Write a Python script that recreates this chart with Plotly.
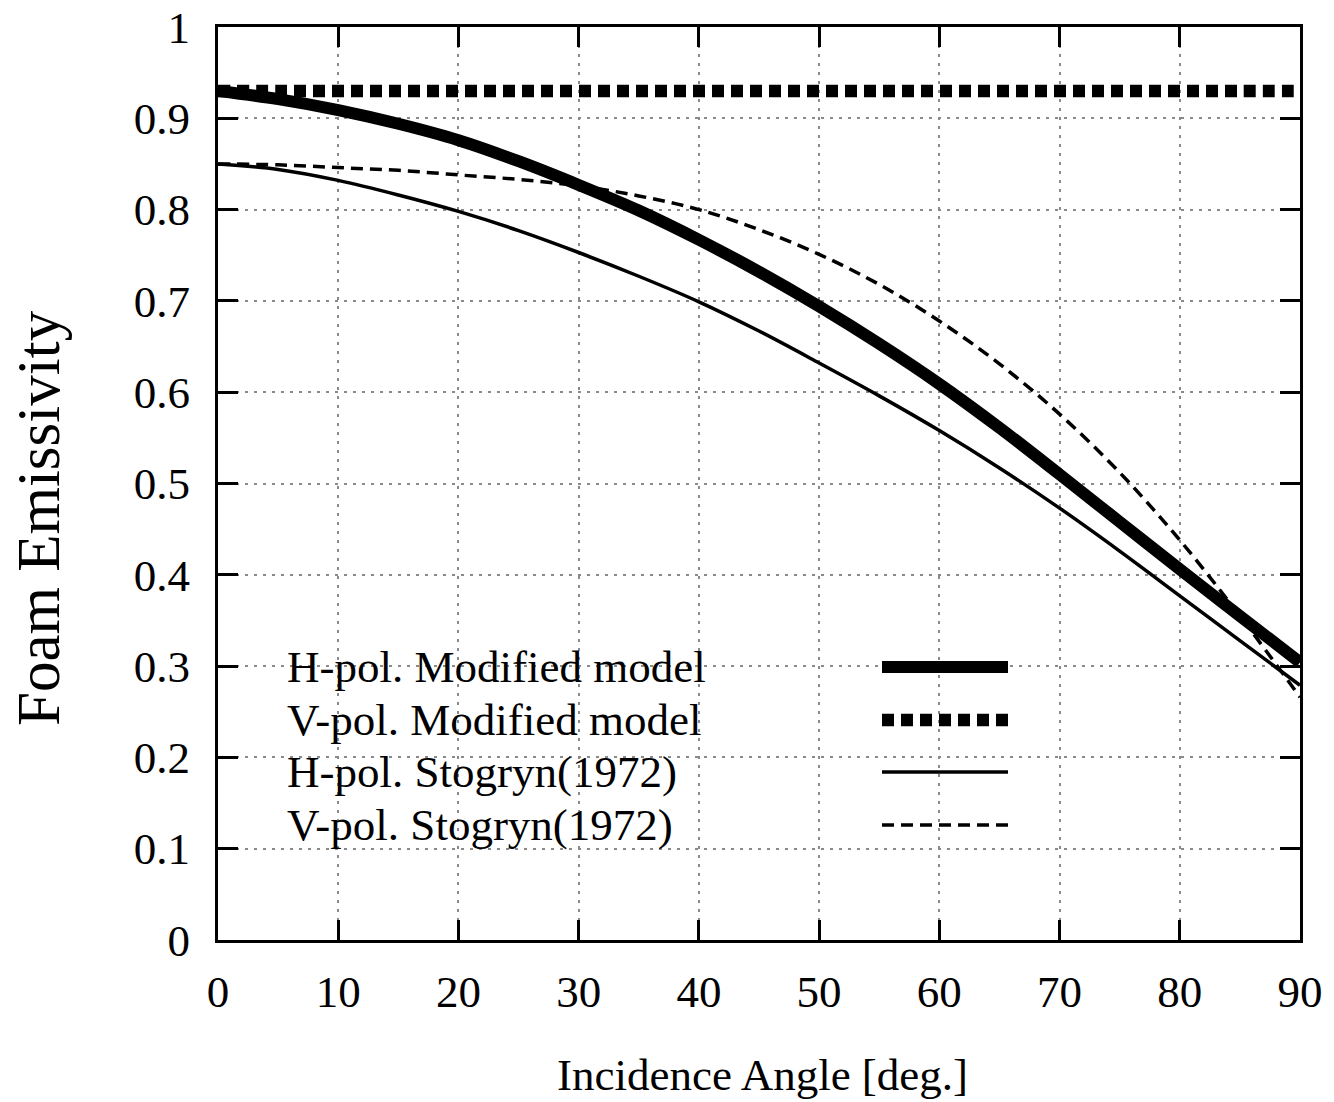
import plotly.graph_objects as go

# ---- data ----
angle = [0, 5, 10, 15, 20, 25, 30, 35, 40, 45, 50, 55, 60, 65, 70, 75, 80, 85, 90]
h_mod = [0.930, 0.921, 0.909, 0.894, 0.876, 0.853, 0.827, 0.799, 0.767, 0.732,
         0.694, 0.653, 0.609, 0.561, 0.510, 0.458, 0.406, 0.355, 0.304]
v_mod = [0.930] * len(angle)
h_sto = [0.850, 0.844, 0.832, 0.816, 0.798, 0.777, 0.753, 0.727, 0.699, 0.667,
         0.632, 0.596, 0.558, 0.517, 0.473, 0.426, 0.377, 0.328, 0.279]
v_sto = [0.850, 0.849, 0.846, 0.843, 0.838, 0.833, 0.826, 0.815, 0.800, 0.778,
         0.751, 0.718, 0.678, 0.631, 0.576, 0.512, 0.438, 0.355, 0.266]

series_names = ["H-pol. Modified model", "V-pol. Modified model",
                "H-pol. Stogryn(1972)", "V-pol. Stogryn(1972)"]
x_ticks = [0, 10, 20, 30, 40, 50, 60, 70, 80, 90]
y_ticks = [0, 0.1, 0.2, 0.3, 0.4, 0.5, 0.6, 0.7, 0.8, 0.9, 1]

FONT = "Liberation Serif, Times New Roman, serif"
W, H = 1334, 1102
ML, MR, MT, MB = 218, 34, 27, 162
PW, PH = W - ML - MR, H - MT - MB


def px(xp):
    return (xp - ML) / PW


def py(yp):
    return (H - MB - yp) / PH


styles = [
    dict(color="black", width=12, dash="solid"),
    dict(color="black", width=12.5, dash="12px,7px"),
    dict(color="black", width=3.5, dash="solid"),
    dict(color="black", width=3.5, dash="12px,7px"),
]
data = [h_mod, v_mod, h_sto, v_sto]

fig = go.Figure()
order = [2, 3, 0, 1]
for i in order:
    fig.add_trace(go.Scatter(x=angle, y=data[i], mode="lines", name=series_names[i],
                             line=dict(shape="spline", smoothing=1.0, **styles[i]),
                             showlegend=False))

# opaque key box
fig.add_shape(type="rect", xref="paper", yref="paper",
              x0=px(275), x1=px(1032), y0=py(856), y1=py(640),
              fillcolor="white", line=dict(width=0), layer="between")

rows = [667, 720, 772, 825]
for i, r in enumerate(rows):
    fig.add_annotation(x=px(285), y=py(r), xref="paper", yref="paper",
                       text=series_names[i], showarrow=False, xanchor="left",
                       yanchor="middle", font=dict(family=FONT, size=45, color="black"))
    fig.add_shape(type="line", xref="paper", yref="paper",
                  x0=px(882), x1=px(1008), y0=py(r), y1=py(r),
                  line=styles[i], layer="above")

fig.add_annotation(x=px(762), y=py(1075), xref="paper", yref="paper",
                   text="Incidence Angle [deg.]", showarrow=False,
                   xanchor="center", yanchor="middle",
                   font=dict(family=FONT, size=45, color="black"))
fig.add_annotation(x=px(38), y=py(518), xref="paper", yref="paper",
                   text="Foam Emissivity", showarrow=False, textangle=-90,
                   xanchor="center", yanchor="middle",
                   font=dict(family=FONT, size=61, color="black"))

axis_common = dict(showline=True, linecolor="black", linewidth=3, mirror="ticks",
                   ticks="inside", ticklen=20, tickwidth=3, tickcolor="black",
                   showgrid=True, gridcolor="#8a8a8a", gridwidth=1.5, griddash="3px,6px",
                   zeroline=False, automargin=False,
                   tickfont=dict(family=FONT, size=45, color="black"))

fig.update_xaxes(range=[0, 90], tickvals=x_ticks, ticktext=[str(v) for v in x_ticks],
                 ticklabelstandoff=10, **axis_common)
fig.update_yaxes(range=[0, 1], tickvals=y_ticks, ticktext=[("%g" % v) for v in y_ticks],
                 ticklabelstandoff=16, **axis_common)

fig.update_layout(width=W, height=H, margin=dict(l=ML, r=MR, t=MT, b=MB, autoexpand=False),
                  plot_bgcolor="white", paper_bgcolor="white",
                  font=dict(family=FONT, color="black"))

fig.write_html("out.html")
